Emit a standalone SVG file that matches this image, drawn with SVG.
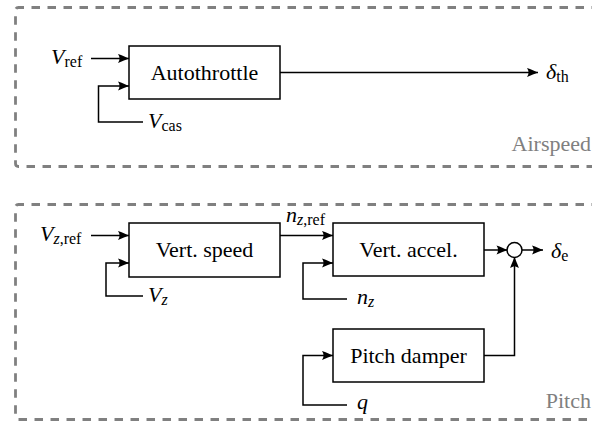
<svg xmlns="http://www.w3.org/2000/svg" width="592" height="421" viewBox="0 0 592 421">
<style>
text{font-family:"Liberation Serif","Times New Roman",serif;fill:#000}
.lbl{font-size:22px}
.node{font-size:22px;text-anchor:middle}
.grp{font-size:22px;fill:#808080;text-anchor:end}
.i{font-style:italic}
.sub{font-size:16px}
.box{fill:#fff;stroke:#000;stroke-width:1.5}
.dash{fill:none;stroke:#808080;stroke-width:2.8;stroke-dasharray:8.5 7.5}
.wire{fill:none;stroke:#000;stroke-width:1.5}
.arr{marker-end:url(#ah)}
</style>
<defs>
<marker id="ah" markerUnits="userSpaceOnUse" markerWidth="14" markerHeight="12" refX="11.5" refY="6" orient="auto" viewBox="0 0 14 12">
<path d="M11.5,6 C8.5,4.8 4.5,3 0.5,1.6 C2.6,4.3 2.6,7.7 0.5,10.4 C4.5,9 8.5,7.2 11.5,6 Z" fill="#000"/>
</marker>
</defs>

<g id="group-airspeed">
<path class="dash" d="M600,7.5 H18.5 Q15.5,7.5 15.5,10.5 V163.5 Q15.5,166.5 18.5,166.5 H600"/>
<text class="grp" x="591" y="151">Airspeed</text>
</g>
<g id="group-pitch">
<path class="dash" d="M600,204.5 H18.5 Q15.5,204.5 15.5,207.5 V416.5 Q15.5,419.5 18.5,419.5 H600"/>
<text class="grp" x="591" y="408">Pitch</text>
</g>

<g id="connectors">
<path class="wire arr" d="M91,58.5 H129"/>
<path class="wire arr" d="M143,122 H98.5 V86 H129"/>
<path class="wire arr" d="M280,72.5 H538"/>
<path class="wire arr" d="M91,235.5 H129"/>
<path class="wire arr" d="M143,296 H106 V263 H129"/>
<path class="wire arr" d="M280,235.5 H333"/>
<path class="wire arr" d="M347,299 H303 V263 H333"/>
<path class="wire arr" d="M484,250 H507.5"/>
<path class="wire arr" d="M522,250 H543"/>
<path class="wire arr" d="M484,355.5 H514.5 V257"/>
<path class="wire arr" d="M347,405 H303 V355.5 H333"/>
</g>

<g id="autothrottle">
<rect class="box" x="129" y="46" width="151" height="53"/>
<text class="node" x="204.5" y="80">Autothrottle</text>
</g>
<g id="vert-speed">
<rect class="box" x="129" y="223" width="151" height="54"/>
<text class="node" x="204.5" y="257">Vert. speed</text>
</g>
<g id="vert-accel">
<rect class="box" x="333" y="223" width="151" height="53"/>
<text class="node" x="408.5" y="257">Vert. accel.</text>
</g>
<g id="pitch-damper">
<rect class="box" x="333" y="329" width="151" height="53"/>
<text class="node" x="408.5" y="363">Pitch damper</text>
</g>
<g id="sum">
<circle cx="514.5" cy="250" r="7.5" fill="#fff" stroke="#000" stroke-width="1.5"/>
</g>

<g id="labels">
<text class="lbl" x="51" y="64"><tspan class="i">V</tspan><tspan class="sub" dy="3">ref</tspan></text>
<text class="lbl" x="148" y="128"><tspan class="i">V</tspan><tspan class="sub" dy="3">cas</tspan></text>
<text class="lbl" x="546" y="79"><tspan class="i">δ</tspan><tspan class="sub" dy="3">th</tspan></text>
<text class="lbl" x="40" y="241"><tspan class="i">V</tspan><tspan class="sub" dy="3"><tspan class="i">z</tspan>,ref</tspan></text>
<text class="lbl" x="148" y="302"><tspan class="i">V</tspan><tspan class="sub i" dy="3">z</tspan></text>
<text class="lbl" x="286" y="222"><tspan class="i">n</tspan><tspan class="sub" dy="3"><tspan class="i">z</tspan>,ref</tspan></text>
<text class="lbl" x="357" y="304"><tspan class="i">n</tspan><tspan class="sub i" dy="3">z</tspan></text>
<text class="lbl" x="551" y="258"><tspan class="i">δ</tspan><tspan class="sub" dy="3">e</tspan></text>
<text class="lbl i" x="357" y="409">q</text>
</g>
</svg>
